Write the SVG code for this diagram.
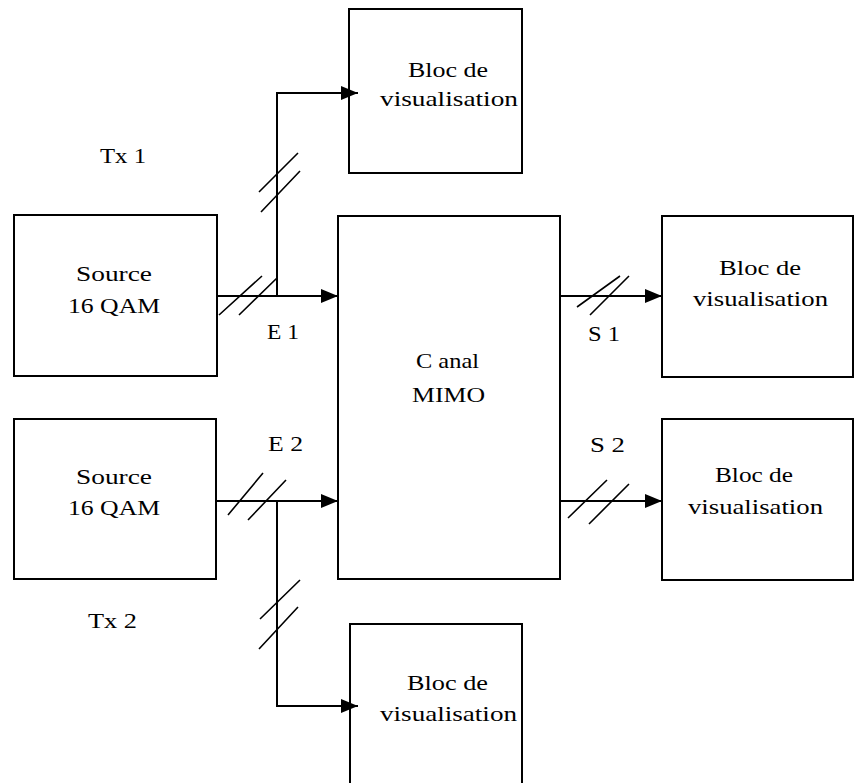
<svg xmlns="http://www.w3.org/2000/svg" width="855" height="783" viewBox="0 0 855 783">
  <style>
    .box { fill: #ffffff; stroke: #000000; stroke-width: 2; }
    .wire { fill: none; stroke: #000000; stroke-width: 2; }
    .tick { fill: none; stroke: #000000; stroke-width: 1.6; }
    .lbl { font-family: 'Liberation Serif', 'DejaVu Serif', 'Times New Roman', serif; font-size: 22px; fill: #000000; }
  </style>
  <defs>
    <marker id="arrow" markerUnits="userSpaceOnUse" markerWidth="18" markerHeight="15" refX="17" refY="7" orient="auto">
      <path d="M0,0 L17,7 L0,14 z" fill="#000000"/>
    </marker>
  </defs>
  <rect width="855" height="783" fill="#ffffff"/>

  <!-- blocks -->
  <g id="vis-top">
    <rect class="box" x="349" y="9" width="173" height="164"/>
    <text class="lbl" x="408" y="77" textLength="80" lengthAdjust="spacingAndGlyphs">Bloc de</text>
    <text class="lbl" x="380" y="106" textLength="138" lengthAdjust="spacingAndGlyphs">visualisation</text>
  </g>
  <g id="tx1">
    <text class="lbl" x="100" y="163" textLength="46" lengthAdjust="spacingAndGlyphs">Tx 1</text>
  </g>
  <g id="source1">
    <rect class="box" x="14" y="215" width="203" height="161"/>
    <text class="lbl" x="76" y="281" textLength="76" lengthAdjust="spacingAndGlyphs">Source</text>
    <text class="lbl" x="68" y="313" textLength="92" lengthAdjust="spacingAndGlyphs">16 QAM</text>
  </g>
  <g id="source2">
    <rect class="box" x="14" y="419" width="202" height="160"/>
    <text class="lbl" x="76" y="484" textLength="76" lengthAdjust="spacingAndGlyphs">Source</text>
    <text class="lbl" x="68" y="515" textLength="92" lengthAdjust="spacingAndGlyphs">16 QAM</text>
  </g>
  <g id="tx2">
    <text class="lbl" x="88" y="628" textLength="49" lengthAdjust="spacingAndGlyphs">Tx 2</text>
  </g>
  <g id="canal">
    <rect class="box" x="338" y="216" width="222" height="363"/>
    <text class="lbl" x="416" y="368" textLength="63" lengthAdjust="spacingAndGlyphs">C anal</text>
    <text class="lbl" x="412" y="402" textLength="73" lengthAdjust="spacingAndGlyphs">MIMO</text>
  </g>
  <g id="vis-s1">
    <rect class="box" x="662" y="216" width="191" height="161"/>
    <text class="lbl" x="719" y="275" textLength="82" lengthAdjust="spacingAndGlyphs">Bloc de</text>
    <text class="lbl" x="693" y="306" textLength="135" lengthAdjust="spacingAndGlyphs">visualisation</text>
  </g>
  <g id="vis-s2">
    <rect class="box" x="662" y="419" width="191" height="161"/>
    <text class="lbl" x="715" y="482" textLength="78" lengthAdjust="spacingAndGlyphs">Bloc de</text>
    <text class="lbl" x="688" y="514" textLength="135" lengthAdjust="spacingAndGlyphs">visualisation</text>
  </g>
  <g id="vis-bottom">
    <rect class="box" x="350" y="624" width="172" height="175"/>
    <text class="lbl" x="407" y="690" textLength="81" lengthAdjust="spacingAndGlyphs">Bloc de</text>
    <text class="lbl" x="380" y="721" textLength="137" lengthAdjust="spacingAndGlyphs">visualisation</text>
  </g>

  <!-- signal labels -->
  <g id="labels">
    <text class="lbl" x="267" y="339" textLength="32" lengthAdjust="spacingAndGlyphs">E 1</text>
    <text class="lbl" x="268" y="451" textLength="35" lengthAdjust="spacingAndGlyphs">E 2</text>
    <text class="lbl" x="588" y="341" textLength="32" lengthAdjust="spacingAndGlyphs">S 1</text>
    <text class="lbl" x="590" y="452" textLength="35" lengthAdjust="spacingAndGlyphs">S 2</text>
  </g>

  <!-- connectors -->
  <g id="connectors">
    <path class="wire" d="M217,296 H338" marker-end="url(#arrow)"/>
    <path class="wire" d="M277,296 V93 H358" marker-end="url(#arrow)"/>
    <path class="wire" d="M216,501 H338" marker-end="url(#arrow)"/>
    <path class="wire" d="M277,501 V706 H358" marker-end="url(#arrow)"/>
    <path class="wire" d="M560,296 H662" marker-end="url(#arrow)"/>
    <path class="wire" d="M560,501 H662" marker-end="url(#arrow)"/>

    <!-- bus markers (double slashes) -->
    <path class="tick" d="M219,315 L262,276 M239,315 L277,278"/>
    <path class="tick" d="M259,192 L298,153 M261,212 L300,171"/>
    <path class="tick" d="M228,515 L263,473 M248,520 L286,480"/>
    <path class="tick" d="M260,619 L300,580 M259,649 L298,607"/>
    <path class="tick" d="M577,307 L620,276 M590,315 L629,276"/>
    <path class="tick" d="M568,518 L607,480 M589,524 L629,484"/>
  </g>
</svg>
